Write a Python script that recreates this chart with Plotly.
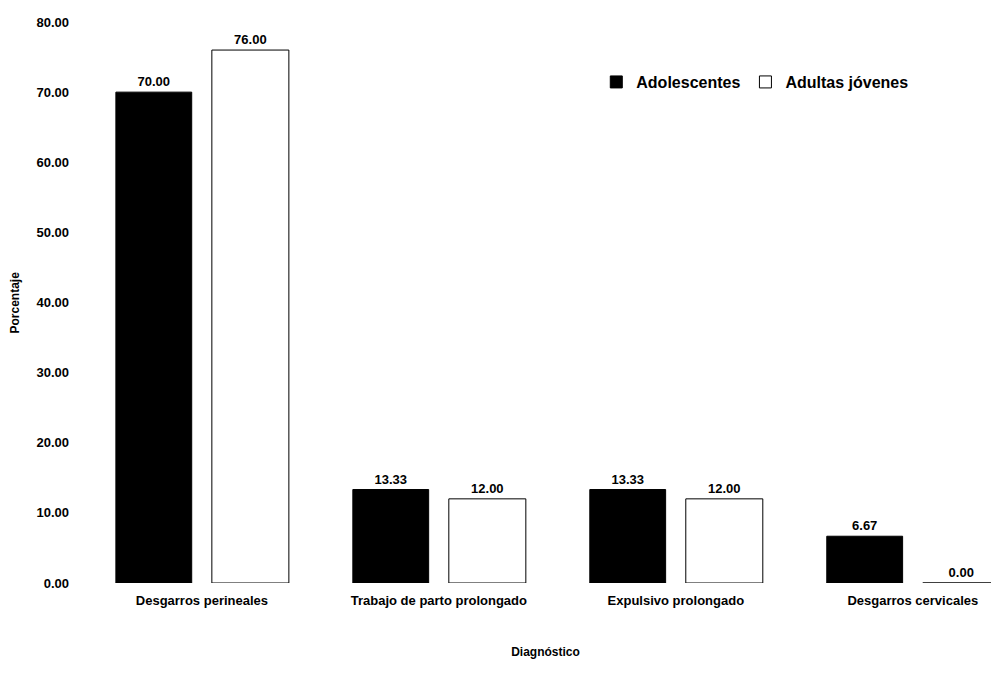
import plotly.graph_objects as go

categorias = ["Desgarros perineales", "Trabajo de parto prolongado",
              "Expulsivo prolongado", "Desgarros cervicales"]
adolescentes = [70.00, 13.33, 13.33, 6.67]
adultas_jovenes = [76.00, 12.00, 12.00, 0.00]
y_ticks = [0, 10, 20, 30, 40, 50, 60, 70, 80]

x = list(range(len(categorias)))
FONT = "Liberation Sans, Arial, sans-serif"
BAR_W = 0.32

fig = go.Figure()
fig.add_trace(go.Bar(
    x=x, y=adolescentes, name="<b>Adolescentes</b>",
    width=BAR_W, offset=-0.363,
    marker=dict(color="black", line=dict(color="black", width=1)),
    text=[f"{v:.2f}" for v in adolescentes], textposition="outside",
    textfont=dict(family=FONT, size=13, color="black"), cliponaxis=False,
))
fig.add_trace(go.Bar(
    x=x, y=adultas_jovenes, name="<b>Adultas jóvenes</b>",
    width=BAR_W + 0.005, offset=0.042,
    marker=dict(color="white", line=dict(color="black", width=1)),
    text=[f"{v:.2f}" for v in adultas_jovenes], textposition="outside",
    textfont=dict(family=FONT, size=13, color="black"), cliponaxis=False,
))

fig.update_layout(
    width=991, height=673,
    margin=dict(l=100, r=0, t=22, b=90),
    paper_bgcolor="white", plot_bgcolor="white",
    barmode="overlay",
    font=dict(family=FONT, size=12, color="black"),
    showlegend=True,
    legend=dict(orientation="h", x=0.557, y=0.893, xanchor="left", yanchor="middle",
                font=dict(family=FONT, size=16, color="black"),
                itemwidth=30, tracegroupgap=0, bgcolor="rgba(0,0,0,0)"),
    xaxis=dict(
        tickmode="array", tickvals=x, ticktext=[f"<b>{c}</b>" for c in categorias],
        range=[-0.43, 3.33], showgrid=False, zeroline=False, showline=False,
        ticks="", tickfont=dict(family=FONT, size=13), ticklabelstandoff=8,
        title=dict(text="<b>Diagnóstico</b>", font=dict(family=FONT, size=12), standoff=40),
    ),
    yaxis=dict(
        range=[0, 80], tickmode="array", tickvals=y_ticks,
        ticktext=[f"<b>{v:.2f}</b>" for v in y_ticks],
        showgrid=False, zeroline=False, showline=False, ticks="",
        tickfont=dict(family=FONT, size=13), ticklabelstandoff=30,
    ),
    annotations=[dict(
        text="<b>Porcentaje</b>", textangle=-90, showarrow=False,
        xref="paper", yref="paper", x=-0.0954, y=0.5,
        xanchor="center", yanchor="middle",
        font=dict(family=FONT, size=12, color="black"),
    )],
)
fig.update_traces(texttemplate="<b>%{text}</b>")

fig.write_html("out.html")
